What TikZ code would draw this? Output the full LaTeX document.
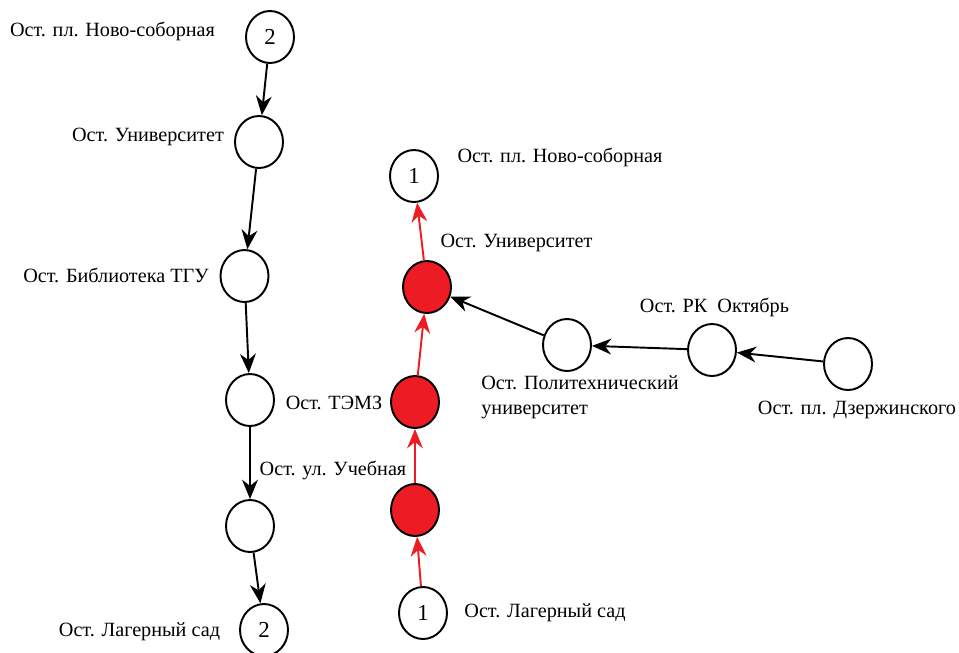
\documentclass[tikz,border=0pt]{standalone}
\usepackage{fontspec}
\setmainfont{Liberation Serif}
\usetikzlibrary{shapes.geometric,arrows.meta}

\begin{document}
\begin{tikzpicture}[
		stop/.style={draw, line width=1.1pt, ellipse, minimum width=0.96cm, minimum height=1.04cm, inner sep=0pt, font=\fontsize{13}{15}\selectfont},
		redstop/.style={stop, fill=routered},
		lbl/.style={font=\fontsize{11.5}{14.2}\selectfont, inner sep=0pt},
		go/.style={-{Stealth[length=11pt,width=9pt]}, line width=1.1pt},
		redgo/.style={go, draw=routered, -{Stealth[length=11pt,width=9pt,fill=routered]}}
	]
		\definecolor{routered}{HTML}{ED1C24}
		\useasboundingbox (0,0) rectangle (19.18,-13.04);

		%route 2 (left)
		\node[stop] (s2a) at (5.4,-0.74) {2};
		\node[stop] (su) at (5.18,-2.84) {};
		\node[stop] (sb) at (4.89,-5.52) {};
		\node[stop] (sn4) at (5.0,-8.0) {};
		\node[stop] (sn5) at (5.0,-10.52) {};
		\node[stop] (s2b) at (5.28,-12.6) {2};

		\draw[go] (s2a) -- (su);
		\draw[go] (su) -- (sb);
		\draw[go] (sb) -- (sn4);
		\draw[go] (sn4) -- (sn5);
		\draw[go] (sn5) -- (s2b);

		\node[lbl] (la) at (2.25,-0.62) {Ост. пл. Ново-соборная};
		\node[lbl] (lb) at (2.96,-2.74) {Ост. Университет};
		\node[lbl] (lc) at (2.32,-5.5) {Ост. Библиотека ТГУ};
		\node[lbl] (lf) at (2.79,-12.64) {Ост. Лагерный сад};

		%route 1 (middle)
		\node[stop] (m1a) at (8.28,-3.52) {1};
		\node[redstop] (mu) at (8.54,-5.74) {};
		\node[redstop] (mt) at (8.3,-8.04) {};
		\node[redstop] (mr) at (8.3,-10.2) {};
		\node[stop] (m1b) at (8.46,-12.26) {1};

		\draw[redgo] (m1b) -- (mr);
		\draw[redgo] (mr) -- (mt);
		\draw[redgo] (mt) -- (mu);
		\draw[redgo] (mu) -- (m1a);

		\node[lbl] (ld) at (6.68,-8.06) {Ост. ТЭМЗ};
		\node[lbl] (le) at (6.66,-9.4) {Ост. ул. Учебная};
		\node[lbl] (lg) at (11.2,-3.14) {Ост. пл. Ново-соборная};
		\node[lbl] (lh) at (10.33,-4.86) {Ост. Университет};
		\node[lbl] (ll) at (10.9,-12.26) {Ост. Лагерный сад};

		%branch (right)
		\node[stop] (rp) at (11.34,-6.9) {};
		\node[stop] (rk) at (14.24,-7.0) {};
		\node[stop] (rd) at (16.96,-7.28) {};

		\draw[go] (rd) -- (rk);
		\draw[go] (rk) -- (rp);
		\draw[go] (rp) -- (mu);

		\node[lbl, align=left] (li) at (11.6,-7.94) {Ост. Политехнический\\университет};
		\node[lbl] (lj) at (14.29,-6.14) {Ост. РК\ \ Октябрь};
		\node[lbl] (lk) at (17.14,-8.2) {Ост. пл. Дзержинского};

	\end{tikzpicture}
\end{document}
